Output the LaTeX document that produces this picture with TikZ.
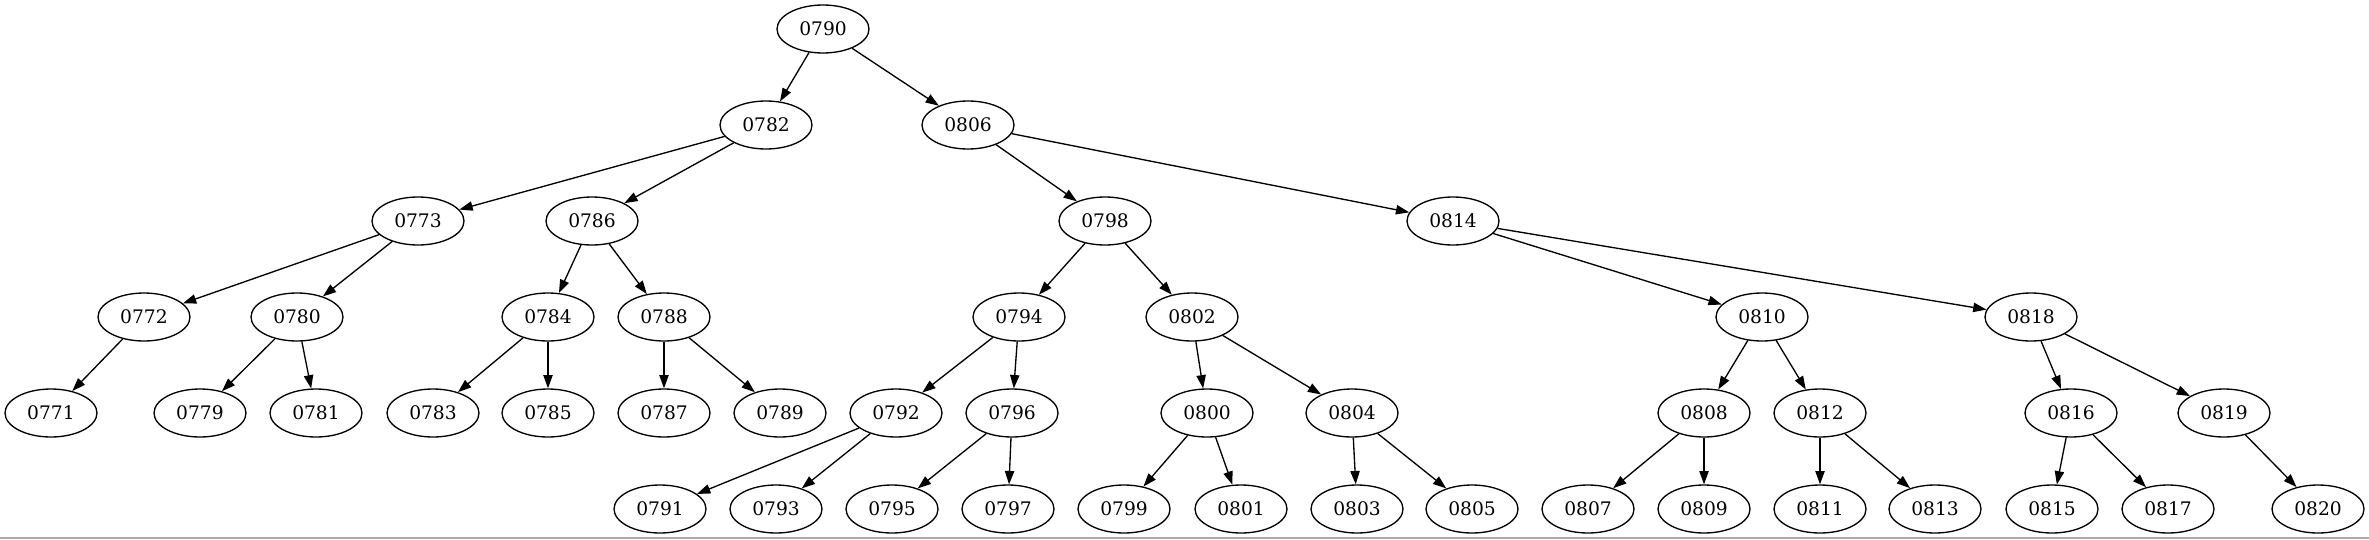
\documentclass[tikz,border=0pt]{standalone}
\usepackage{fontspec}
\setmainfont{DejaVu Serif}
\usetikzlibrary{shapes.geometric,arrows.meta}
\tikzset{
  tn/.style={ellipse, draw, line width=1pt, minimum width=69pt, minimum height=36pt, inner sep=0pt, font=\fontsize{14}{16}\selectfont},
  ed/.style={line width=1pt, -{Triangle[length=10pt,width=7pt]}},
}
\begin{document}
\begin{tikzpicture}[x=0.75pt,y=-0.75pt]
\useasboundingbox (0,0) rectangle (2369,539);
\draw[line width=1pt, color={rgb,255:red,170;green,170;blue,170}] (0,538) -- (2369,538);
% row 1
\node[tn] (n0790) at (823,29) {0790};
% row 2
\node[tn] (n0782) at (766,125) {0782};
\node[tn] (n0806) at (968,125) {0806};
% row 3
\node[tn] (n0773) at (418,221) {0773};
\node[tn] (n0786) at (592,221) {0786};
\node[tn] (n0798) at (1105,221) {0798};
\node[tn] (n0814) at (1453,221) {0814};
% row 4
\node[tn] (n0772) at (144,317) {0772};
\node[tn] (n0780) at (297,317) {0780};
\node[tn] (n0784) at (548,317) {0784};
\node[tn] (n0788) at (664,317) {0788};
\node[tn] (n0794) at (1019,317) {0794};
\node[tn] (n0802) at (1192,317) {0802};
\node[tn] (n0810) at (1762,317) {0810};
\node[tn] (n0818) at (2031,317) {0818};
% row 5
\node[tn] (n0771) at (51,413) {0771};
\node[tn] (n0779) at (200,413) {0779};
\node[tn] (n0781) at (316,413) {0781};
\node[tn] (n0783) at (433,413) {0783};
\node[tn] (n0785) at (548,413) {0785};
\node[tn] (n0787) at (664,413) {0787};
\node[tn] (n0789) at (780,413) {0789};
\node[tn] (n0792) at (896,413) {0792};
\node[tn] (n0796) at (1012,413) {0796};
\node[tn] (n0800) at (1207,413) {0800};
\node[tn] (n0804) at (1352,413) {0804};
\node[tn] (n0808) at (1704,413) {0808};
\node[tn] (n0812) at (1820,413) {0812};
\node[tn] (n0816) at (2071,413) {0816};
\node[tn] (n0819) at (2224,413) {0819};
% row 6
\node[tn] (n0791) at (660,509) {0791};
\node[tn] (n0793) at (776,509) {0793};
\node[tn] (n0795) at (892,509) {0795};
\node[tn] (n0797) at (1008,509) {0797};
\node[tn] (n0799) at (1124,509) {0799};
\node[tn] (n0801) at (1241,509) {0801};
\node[tn] (n0803) at (1357,509) {0803};
\node[tn] (n0805) at (1472,509) {0805};
\node[tn] (n0807) at (1588,509) {0807};
\node[tn] (n0809) at (1704,509) {0809};
\node[tn] (n0811) at (1820,509) {0811};
\node[tn] (n0813) at (1935,509) {0813};
\node[tn] (n0815) at (2052,509) {0815};
\node[tn] (n0817) at (2168,509) {0817};
\node[tn] (n0820) at (2318,509) {0820};
% edges
\foreach \a/\b in {0790/0782,0790/0806,0782/0773,0782/0786,0806/0798,0806/0814,
  0773/0772,0773/0780,0786/0784,0786/0788,0798/0794,0798/0802,0814/0810,0814/0818,
  0772/0771,0780/0779,0780/0781,0784/0783,0784/0785,0788/0787,0788/0789,
  0794/0792,0794/0796,0802/0800,0802/0804,0810/0808,0810/0812,0818/0816,0818/0819,
  0792/0791,0792/0793,0796/0795,0796/0797,0800/0799,0800/0801,0804/0803,0804/0805,
  0808/0807,0808/0809,0812/0811,0812/0813,0816/0815,0816/0817,0819/0820}
  \draw[ed] (n\a) -- (n\b);
\end{tikzpicture}
\end{document}
